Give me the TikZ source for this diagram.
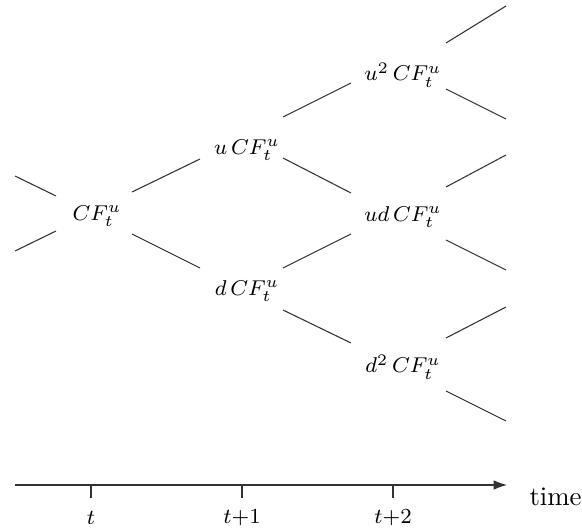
\documentclass[tikz,border=0pt]{standalone}
\usetikzlibrary{arrows.meta}
\begin{document}
\begin{tikzpicture}[x=0.3731pt,y=-0.3731pt,
  val/.style={inner sep=0pt,font=\fontsize{8.4}{10}\selectfont},
  tlbl/.style={inner sep=0pt,font=\fontsize{8.2}{10}\selectfont},
  branch/.style={line width=0.4pt,black!80},
  axisline/.style={line width=0.4pt,black!80},
  tick/.style={line width=0.4pt,black!80}]
\useasboundingbox (0,0) rectangle (582,529);
% value nodes
\node[val] (n0) at (97,216) {$CF_t^u$};
\node[val] (n1) at (247,150) {$u\,CF_t^u$};
\node[val] (n2) at (247,291) {$d\,CF_t^u$};
\node[val] (n3) at (403,75) {$u^2\,CF_t^u$};
\node[val] (n4) at (403,217) {$ud\,CF_t^u$};
\node[val] (n5) at (403,367) {$d^2\,CF_t^u$};
% branch end points
\coordinate (l1a) at (15,176);  \coordinate (l1b) at (56,196);
\coordinate (l2a) at (15,251);  \coordinate (l2b) at (56,231);
\coordinate (b1a) at (132,192); \coordinate (b1b) at (200,159);
\coordinate (b2a) at (132,234); \coordinate (b2b) at (200,268);
\coordinate (b3a) at (283,117); \coordinate (b3b) at (351,83);
\coordinate (b4a) at (283,158); \coordinate (b4b) at (351,193);
\coordinate (b5a) at (283,268); \coordinate (b5b) at (351,234);
\coordinate (b6a) at (283,310); \coordinate (b6b) at (351,343);
\coordinate (r1a) at (446,43);  \coordinate (r1b) at (506,6);
\coordinate (r2a) at (446,89);  \coordinate (r2b) at (506,119);
\coordinate (r3a) at (446,187); \coordinate (r3b) at (506,155);
\coordinate (r4a) at (446,240); \coordinate (r4b) at (506,270);
\coordinate (r5a) at (446,338); \coordinate (r5b) at (506,307);
\coordinate (r6a) at (446,391); \coordinate (r6b) at (506,421);
\foreach \p in {l1,l2,b1,b2,b3,b4,b5,b6,r1,r2,r3,r4,r5,r6}
  \draw[branch] (\p a) -- (\p b);
% time axis
\coordinate (ax0) at (15,485);
\coordinate (ax1) at (507,485);
\draw[axisline,-{Latex[length=5pt,width=3.6pt]}] (ax0) -- (ax1);
\node[anchor=west,inner sep=0pt] (tm) at (529,497) {time};
\coordinate (k0) at (91,485); \coordinate (k1) at (242,485); \coordinate (k2) at (393,485);
\foreach \k in {k0,k1,k2} \draw[tick] (\k) -- ++(0,13);
\node[tlbl] (t0) at (91,518) {$t$};
\node[tlbl] (t1) at (242,518) {$t{+}1$};
\node[tlbl] (t2) at (393,518) {$t{+}2$};
\end{tikzpicture}
\end{document}
